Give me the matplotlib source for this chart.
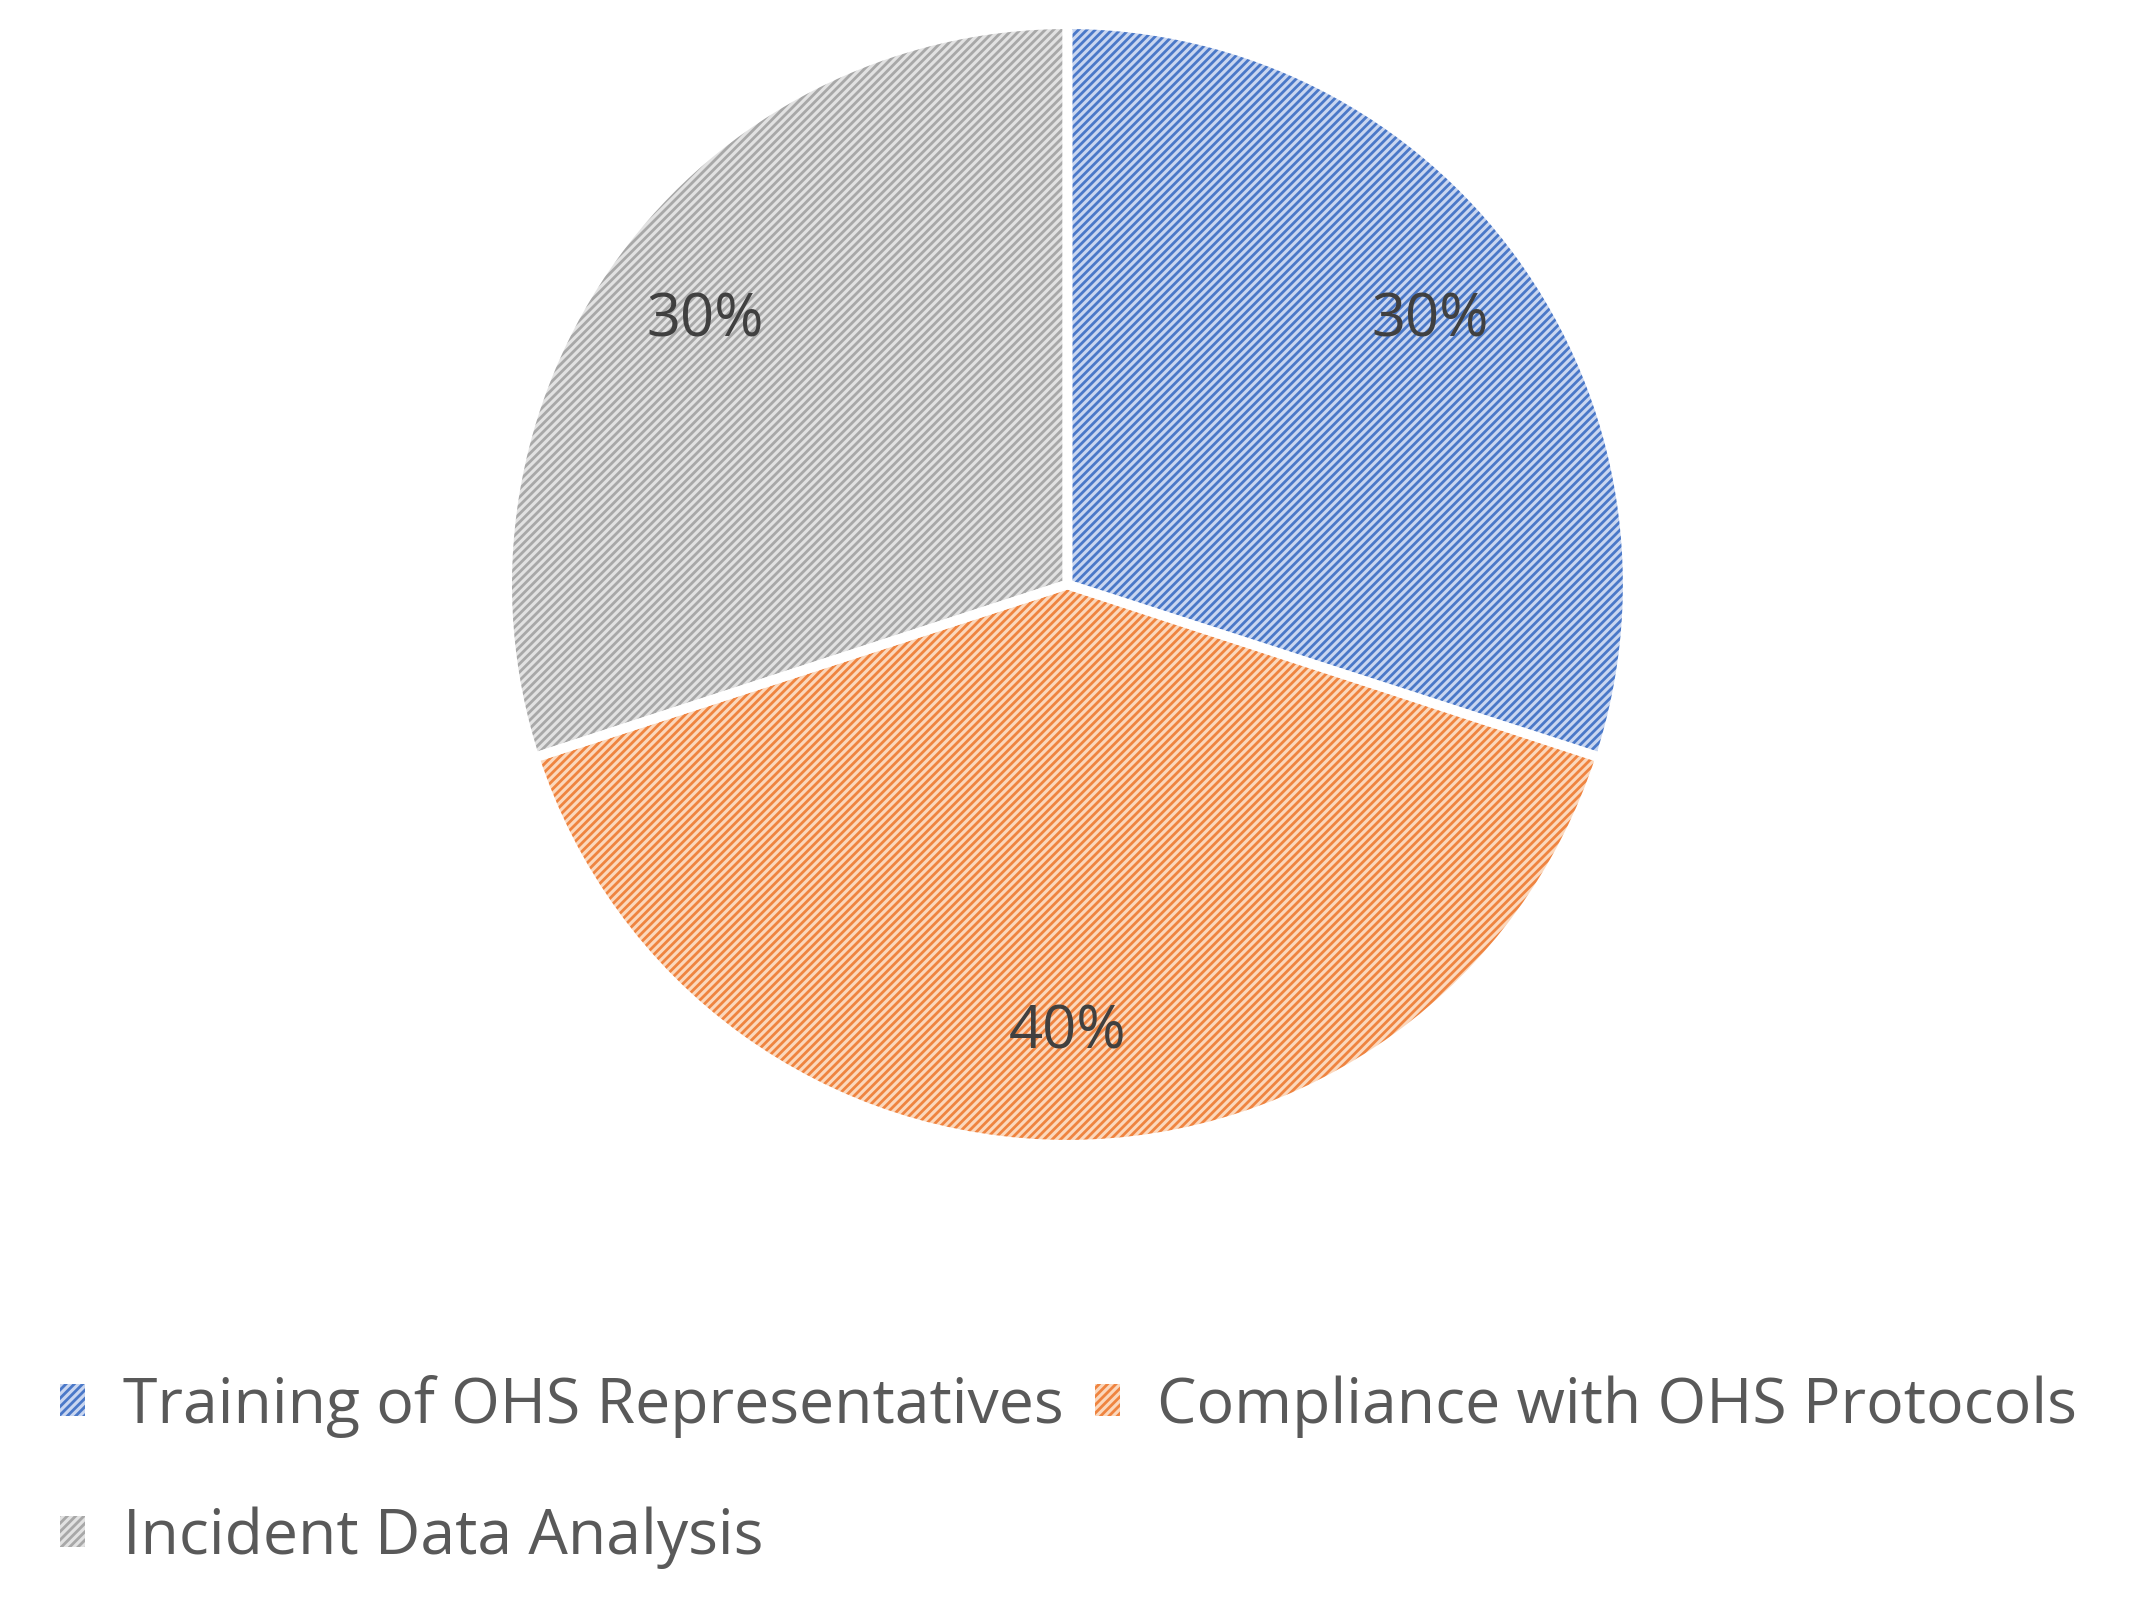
import matplotlib
matplotlib.use("Agg")
import matplotlib.pyplot as plt
from matplotlib.patches import Patch

labels = ["Training of OHS Representatives", "Compliance with OHS Protocols", "Incident Data Analysis"]
values = [30, 40, 30]
faces = ["#c9d6f0", "#fbd8bd", "#e2e2e2"]
hatches = ["#4a78c8", "#ef8440", "#a8a8a8"]

plt.rcParams['font.family'] = ['Open Sans', 'DejaVu Sans']
plt.rcParams['hatch.linewidth'] = 2.0
fig = plt.figure(figsize=(21.37, 16.19), dpi=100)
ax = fig.add_axes([0.232, 0.286, 0.535, 0.706])
w1, _ = ax.pie(values, startangle=90, counterclock=False, radius=1)
for w, f, h in zip(w1, faces, hatches):
    w.set_facecolor(f); w.set_edgecolor(h); w.set_hatch('////'); w.set_linewidth(0)
ax.pie(values, startangle=90, counterclock=False, radius=1,
       wedgeprops=dict(fill=False, edgecolor='white', linewidth=7))
ax.pie(values, startangle=90, counterclock=False, radius=1,
       labels=None, autopct='%d%%', pctdistance=0.8,
       wedgeprops=dict(alpha=0), textprops=dict(fontsize=43, color='#404040'))
ax.set_xlim(-1.02, 1.02); ax.set_ylim(-1.02, 1.02)
ax.set_aspect('equal')

handles = [Patch(facecolor=f, edgecolor=h, hatch='////', linewidth=0) for f, h in zip(faces, hatches)]
order = [0, 2, 1]
fig.legend([handles[i] for i in order], [labels[i] for i in order], ncol=2,
           loc='center', bbox_to_anchor=(0.5, 0.091), frameon=False,
           fontsize=45, labelcolor='#595959', handlelength=0.4, handleheight=0.4,
           handletextpad=0.6, columnspacing=0.5, labelspacing=1.1)
fig.savefig("out.png", dpi=100, facecolor='white')
